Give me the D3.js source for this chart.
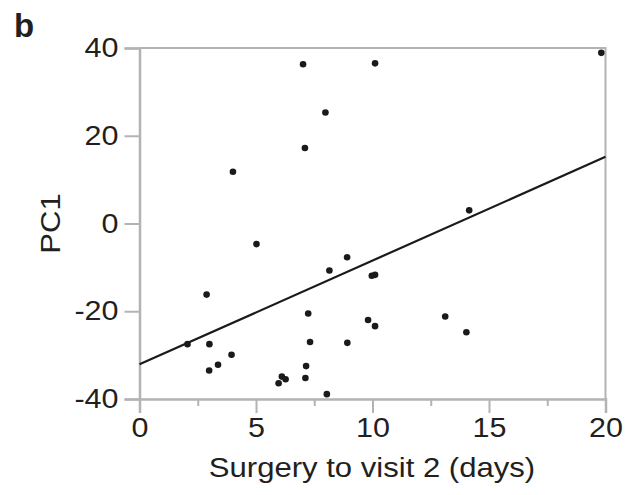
<!DOCTYPE html>
<html>
<head>
<meta charset="utf-8">
<script src="https://cdn.jsdelivr.net/npm/d3@7"></script>
<style>
  html, body { margin: 0; padding: 0; background: #fff; }
  svg text { font-family: "Liberation Sans", Arial, Helvetica, sans-serif; fill: #231f20; }
</style>
</head>
<body>
<svg id="chart" width="627" height="495"></svg>
<script>
// Days from surgery to visit 2, and PC1 score for each subject
const days = [7.02, 10.11, 7.98, 7.10, 4.01, 19.82, 14.15, 5.02, 2.88, 8.15,
              8.91, 9.97, 10.11, 7.24, 9.81, 10.11, 2.06, 3.00, 7.32, 8.92,
              3.95, 3.37, 2.99, 7.15, 6.11, 6.27, 5.97, 7.12, 8.04, 13.12, 14.03];
const pc1  = [36.3, 36.5, 25.3, 17.2, 11.8, 38.9, 3.0, -4.7, -16.2, -10.7,
              -7.7, -11.9, -11.7, -20.5, -22.0, -23.4, -27.5, -27.5, -27.0, -27.2,
              -29.9, -32.2, -33.5, -32.5, -34.9, -35.5, -36.4, -35.2, -38.9, -21.2, -24.8];

// Fitted trend line endpoints
const fitDays = [0, 20];
const fitPC1  = [-32.1, 15.2];

const xTicks = [0, 5, 10, 15, 20];
const xMinorTicks = [2.5, 7.5, 12.5, 17.5];
const yTicks = [-40, -20, 0, 20, 40];

const svg = d3.select("#chart");
const axisColor = "#b3b3b3";
const widen = 1.13; // horizontal stretch applied to all text

// Stretch a text element horizontally while keeping its anchor point
function stretch(sel) {
  sel.each(function () {
    const w = this.getComputedTextLength();
    if (w > 0) {
      this.setAttribute("textLength", w * widen);
      this.setAttribute("lengthAdjust", "spacingAndGlyphs");
    }
  });
}

const x = d3.scaleLinear().domain([0, 20]).range([139.5, 605.5]);
const y = d3.scaleLinear().domain([-40, 40]).range([399, 48]);

// Frame (top and right edges)
svg.append("path")
  .attr("d", `M${x(0)},${y(40)}H${x(20)}V${y(-40)}`)
  .attr("fill", "none").attr("stroke", axisColor).attr("stroke-width", 2);

// X axis
const xAxis = svg.append("g").attr("transform", `translate(0,${y(-40)})`)
  .call(d3.axisBottom(x).tickValues(xTicks).tickSize(14).tickPadding(5).tickFormat(d => String(d)));
xAxis.select(".domain").attr("stroke", axisColor).attr("stroke-width", 2.5);
xAxis.selectAll(".tick line").attr("stroke", axisColor).attr("stroke-width", 2);
xAxis.selectAll(".tick text").attr("font-size", 27).attr("fill", "#231f20").attr("font-family", null).call(stretch);

const xMinor = svg.append("g").attr("transform", `translate(0,${y(-40)})`)
  .call(d3.axisBottom(x).tickValues(xMinorTicks).tickSize(7).tickFormat(""));
xMinor.select(".domain").remove();
xMinor.selectAll(".tick line").attr("stroke", axisColor).attr("stroke-width", 2);

// Y axis
const yAxis = svg.append("g").attr("transform", `translate(${x(0)},0)`)
  .call(d3.axisLeft(y).tickValues(yTicks).tickSize(15).tickPadding(6).tickFormat(d => String(d)));
yAxis.select(".domain").attr("stroke", axisColor).attr("stroke-width", 2.5);
yAxis.selectAll(".tick line").attr("stroke", axisColor).attr("stroke-width", 2);
yAxis.selectAll(".tick text").attr("font-size", 27).attr("fill", "#231f20").attr("font-family", null).call(stretch);

// Axis titles
svg.append("text")
  .attr("x", (x(0) + x(20)) / 2 - 0.5).attr("y", 477)
  .attr("text-anchor", "middle").attr("font-size", 27.5)
  .text("Surgery to visit 2 (days)").call(stretch);

svg.append("text")
  .attr("transform", `translate(60,${y(0)}) rotate(-90)`)
  .attr("text-anchor", "middle").attr("font-size", 27.5)
  .text("PC1").call(stretch);

// Panel letter
svg.append("text")
  .attr("x", 14).attr("y", 37)
  .attr("font-size", 33).attr("font-weight", "bold")
  .text("b");

// Trend line
svg.append("line")
  .attr("x1", x(fitDays[0])).attr("y1", y(fitPC1[0]))
  .attr("x2", x(fitDays[1])).attr("y2", y(fitPC1[1]))
  .attr("stroke", "#1a1a1a").attr("stroke-width", 2.2);

// Data points
svg.append("g").selectAll("circle")
  .data(d3.range(days.length))
  .join("circle")
  .attr("cx", i => x(days[i]))
  .attr("cy", i => y(pc1[i]))
  .attr("r", 3.3)
  .attr("fill", "#1a1a1a");
</script>
</body>
</html>
